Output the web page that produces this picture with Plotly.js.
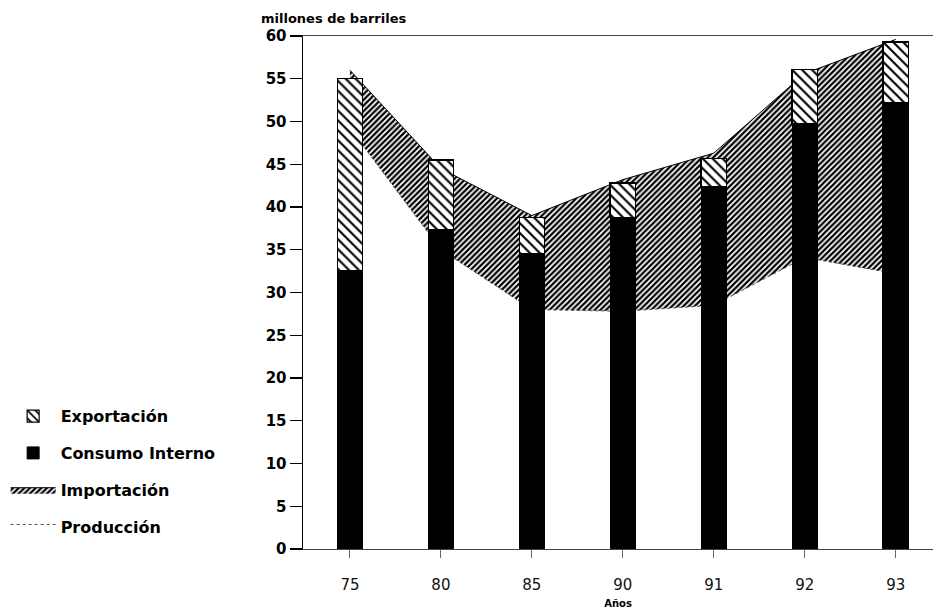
<!DOCTYPE html>
<html>
<head>
<meta charset="utf-8">
<script src="https://cdn.plot.ly/plotly-3.0.1.min.js"></script>
<style>html,body{margin:0;padding:0;background:#fff;}#chart{width:933px;height:614px;}</style>
</head>
<body>
<div id="chart"></div>
<script>
// Data (millones de barriles)
var years = ['75', '80', '85', '90', '91', '92', '93'];
var consumoInterno = [32.6, 37.4, 34.6, 38.8, 42.4, 49.7, 52.2];
var exportacion = [22.4, 8.1, 4.2, 4.0, 3.3, 6.4, 7.1];
var produccion = [49.2, 35.0, 28.0, 27.8, 28.5, 34.1, 32.2];
var importacion = [6.8, 9.5, 11.0, 15.4, 17.8, 21.5, 27.4];

var importTop = produccion.map(function (p, i) { return p + importacion[i]; });

var FONT = 'DejaVu Sans, Liberation Sans, Arial, sans-serif';
var xr = [-0.516, 6.41];

var traces = [
  {
    type: 'scatter', name: 'Producción', x: years, y: produccion,
    mode: 'lines', fill: 'tozeroy', fillcolor: '#ffffff',
    line: {color: '#555', width: 1, dash: 'dot'},
    legendgroup: 'p', legendrank: 4, hoverinfo: 'skip',
    xaxis: 'x', yaxis: 'y'
  },
  {
    type: 'scatter', name: 'Importación', x: years, y: importTop,
    mode: 'lines', fill: 'tonexty', fillcolor: '#ffffff',
    fillpattern: {shape: '/', fgcolor: '#000', bgcolor: '#fff', size: 4, solidity: 0.55},
    line: {color: '#000', width: 1},
    legendgroup: 'i', legendrank: 3, hoverinfo: 'skip',
    xaxis: 'x', yaxis: 'y'
  },
  {
    type: 'bar', name: 'Consumo Interno', x: years, y: consumoInterno,
    marker: {color: '#000', line: {color: '#000', width: 1}},
    legendgroup: 'c', legendrank: 2,
    xaxis: 'x2', yaxis: 'y'
  },
  {
    type: 'bar', name: 'Exportación', x: years, y: exportacion,
    marker: {color: '#fff', line: {color: '#000', width: 1.2},
      pattern: {shape: '\\', fgcolor: '#000', bgcolor: '#fff', size: 7, solidity: 0.3}},
    legendgroup: 'e', legendrank: 1,
    xaxis: 'x2', yaxis: 'y'
  }
];

var layout = {
  width: 933, height: 614,
  margin: {l: 303, r: 0, t: 36, b: 65},
  paper_bgcolor: '#fff', plot_bgcolor: '#fff',
  barmode: 'stack', bargap: 0.72,
  showlegend: true,
  legend: {
    x: -0.472, y: 0.292, xanchor: 'left', yanchor: 'top',
    traceorder: 'grouped', tracegroupgap: 13, itemwidth: 45,
    font: {family: FONT, size: 16, color: '#000', weight: 'bold'},
    bgcolor: 'rgba(0,0,0,0)'
  },
  xaxis: {
    type: 'category', range: xr, fixedrange: true,
    showline: true, linecolor: '#444', linewidth: 1.2, mirror: true,
    ticks: 'outside', ticklen: 8, tickcolor: '#666', tickwidth: 1,
    ticklabelstandoff: 14,
    tickfont: {family: FONT, size: 15, color: '#111'},
    showgrid: false, zeroline: false,
    title: {text: 'Años', font: {family: FONT, size: 10, color: '#000', weight: 'bold'}, standoff: 6}
  },
  xaxis2: {
    type: 'category', range: xr, overlaying: 'x', fixedrange: true,
    showticklabels: false, showline: false, showgrid: false, zeroline: false, ticks: ''
  },
  yaxis: {
    range: [0, 60], dtick: 5, fixedrange: true,
    showline: true, linecolor: '#000', linewidth: 1.5,
    ticks: 'outside', ticklen: 12, tickcolor: '#000', tickwidth: 1.2,
    tickfont: {family: FONT, size: 15, color: '#000', weight: 'bold'},
    showgrid: false, zeroline: false
  },
  yaxis2: {
    range: [0, 60], dtick: 5, overlaying: 'y', side: 'left', fixedrange: true,
    ticks: 'inside', ticklen: 11, tickcolor: '#000', tickwidth: 1.2,
    showticklabels: false, showline: false, showgrid: false, zeroline: false
  },
  annotations: [{
    text: 'millones de barriles', xref: 'paper', yref: 'paper',
    x: -0.07, y: 1.035, xanchor: 'left', yanchor: 'middle', showarrow: false,
    font: {family: FONT, size: 13, color: '#000', weight: 'bold'}
  }]
};

Plotly.newPlot('chart', traces, layout, {displayModeBar: false, staticPlot: true});
</script>
</body>
</html>
